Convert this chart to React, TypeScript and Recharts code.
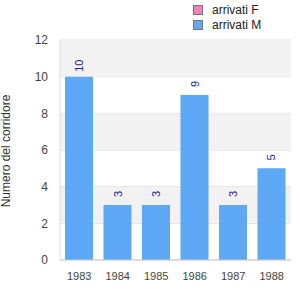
import React from "react";
import {
  BarChart,
  Bar,
  XAxis,
  YAxis,
  CartesianGrid,
  ReferenceArea,
  LabelList,
} from "recharts";

const years = ["1983", "1984", "1985", "1986", "1987", "1988"];
const arrivatiF = [0, 0, 0, 0, 0, 0];
const arrivatiM = [10, 3, 3, 9, 3, 5];
const yTicks = [0, 2, 4, 6, 8, 10, 12];
const bands = [
  [10, 12],
  [6, 8],
  [2, 4],
];
const seriesInfo = [
  { label: "arrivati F", color: "#f080b8" },
  { label: "arrivati M", color: "#5fa8f6" },
];

const data = years.map((y, i) => ({ year: y, F: arrivatiF[i], M: arrivatiM[i] }));

const FONT = "'Liberation Sans', Arial, sans-serif";

function TopLabel(props: any) {
  const { x, y, width, value } = props;
  const cx = x + width / 2;
  const cy = y - 11;
  return (
    <text
      x={cx}
      y={cy}
      transform={`rotate(-90 ${cx} ${cy})`}
      textAnchor="middle"
      dominantBaseline="central"
      fontSize={11}
      fontFamily={FONT}
      fill="#22229a"
    >
      {value}
    </text>
  );
}

function YLabel() {
  const cx = 6;
  const cy = 151;
  return (
    <text
      x={cx}
      y={cy}
      transform={`rotate(-90 ${cx} ${cy})`}
      textAnchor="middle"
      dominantBaseline="central"
      fontSize={12}
      fontFamily={FONT}
      fill="#333"
    >
      Numero del corridore
    </text>
  );
}

export default function App() {
  return (
    <div style={{ position: "fixed", left: 0, top: 0, width: 300, height: 300, background: "#fff" }}>
      <div
        style={{
          position: "absolute",
          left: 193,
          top: 2,
          fontFamily: FONT,
          fontSize: 12,
          color: "#222",
        }}
      >
        {seriesInfo.map((it) => (
          <div key={it.label} style={{ display: "flex", alignItems: "center", height: 15 }}>
            <div
              style={{
                width: 8,
                height: 8,
                background: it.color,
                border: "1px solid #777",
                marginRight: 9,
              }}
            />
            <span>{it.label}</span>
          </div>
        ))}
      </div>
      <BarChart
        width={300}
        height={300}
        data={data}
        margin={{ top: 40, right: 9, bottom: 10, left: 0 }}
        barSize={28}
      >
        {bands.map(([a, b]) => (
          <ReferenceArea key={a} y1={a} y2={b} fill="#f2f2f2" fillOpacity={1} stroke="none" ifOverflow="visible" />
        ))}
        <CartesianGrid vertical={false} stroke="#dddddd" />
        <XAxis
          dataKey="year"
          height={30}
          tickLine={false}
          axisLine={{ stroke: "#cccccc" }}
          tick={{ fill: "#444", fontSize: 11, fontFamily: FONT }}
          tickMargin={6}
        />
        <YAxis
          width={60}
          domain={[0, 12]}
          ticks={yTicks}
          tickLine={false}
          axisLine={{ stroke: "#dddddd" }}
          tick={{ fill: "#444", fontSize: 12, fontFamily: FONT }}
          tickMargin={6}
          label={<YLabel />}
        />
        <YAxis
          yAxisId="right"
          orientation="right"
          width={0}
          domain={[0, 12]}
          tick={false}
          tickLine={false}
          axisLine={{ stroke: "#dddddd" }}
        />
        <Bar dataKey="F" name="arrivati F" stackId="a" fill={seriesInfo[0].color} isAnimationActive={false} />
        <Bar dataKey="M" name="arrivati M" stackId="a" fill={seriesInfo[1].color} isAnimationActive={false}>
          <LabelList dataKey="M" content={<TopLabel />} />
        </Bar>
      </BarChart>
    </div>
  );
}
